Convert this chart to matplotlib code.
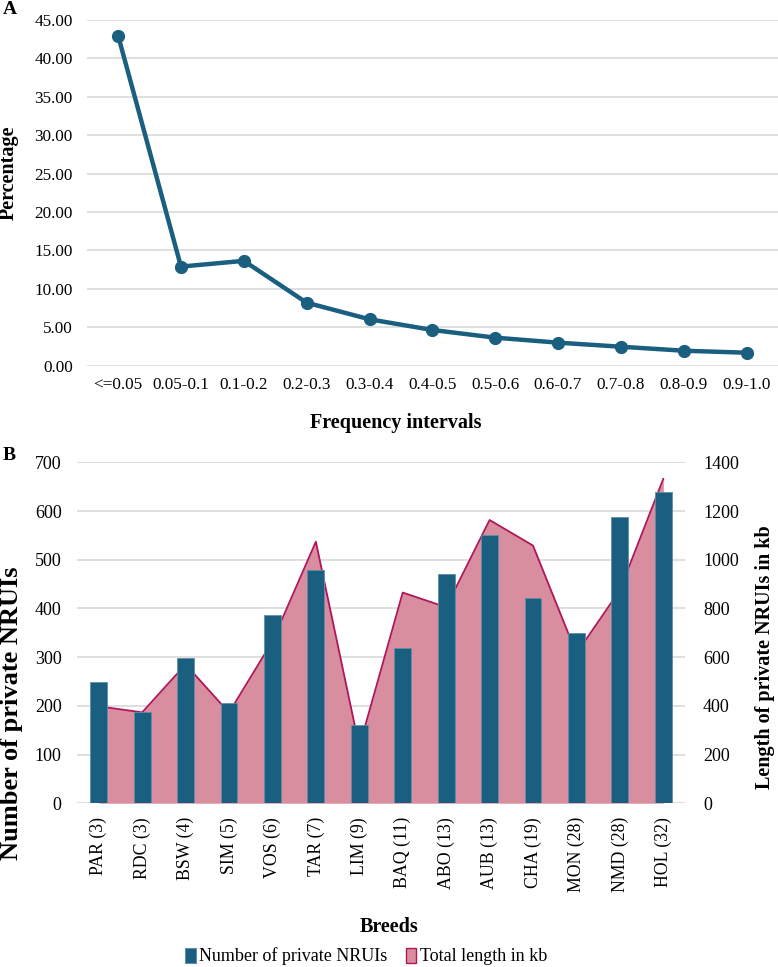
import numpy as np
import matplotlib
matplotlib.use("Agg")
import matplotlib.pyplot as plt
from matplotlib.patches import Patch

plt.rcParams['font.family'] = ['Liberation Serif', 'DejaVu Serif']

# panel A
intervals = ['<=0.05', '0.05-0.1', '0.1-0.2', '0.2-0.3', '0.3-0.4', '0.4-0.5',
             '0.5-0.6', '0.6-0.7', '0.7-0.8', '0.8-0.9', '0.9-1.0']
percentage = [42.96, 12.9, 13.65, 8.2, 6.04, 4.65, 3.65, 3.0, 2.47, 1.95, 1.69]

# panel B
breeds = ['PAR (3)', 'RDC (3)', 'BSW (4)', 'SIM (5)', 'VOS (6)', 'TAR (7)', 'LIM (9)',
          'BAQ (11)', 'ABO (13)', 'AUB (13)', 'CHA (19)', 'MON (28)', 'NMD (28)', 'HOL (32)']
n_private = [249, 187, 299, 205, 387, 479, 161, 319, 471, 551, 421, 350, 588, 640]
length_kb = [398, 373, 570, 372, 665, 1074, 232, 865, 805, 1163, 1058, 615, 875, 1332]

blue = '#1a5e80'
pink = '#d88e9f'
crimson = '#b0165a'
grid_c = '#d9d9d9'

W, H = 778, 967
fig = plt.figure(figsize=(W / 100, H / 100), dpi=100)


def box(l, r, t, b):
    return [l / W, 1 - b / H, (r - l) / W, (b - t) / H]


# ---- A ----
axA = fig.add_axes(box(86.7, 778, 20, 365.7))
xa = np.arange(len(intervals))
axA.plot(xa, percentage, color=blue, lw=3.2, marker='o', ms=8.5, zorder=3)
axA.set_xlim(-0.5, len(intervals) - 0.5)
axA.set_ylim(0, 45)
axA.set_yticks(np.arange(0, 46, 5))
axA.set_yticklabels([f'{v:.2f}' for v in np.arange(0, 46, 5)])
axA.set_xticks(xa)
axA.set_xticklabels(intervals)
axA.grid(axis='y', color=grid_c, lw=1.2)
axA.set_axisbelow(True)
for s in axA.spines.values():
    s.set_visible(False)
axA.tick_params(length=0, labelsize=12.3)
axA.tick_params(axis='y', pad=10)
axA.tick_params(axis='x', pad=8)

fig.text(3 / W, 1 - 10 / H, 'A', fontsize=14, fontweight='bold', va='center', ha='left')
fig.text(9 / W, 1 - 173 / H, 'Percentage', fontsize=14.5, fontweight='bold',
         rotation=90, va='center', ha='center')
fig.text(396 / W, 1 - 422.7 / H, 'Frequency intervals', fontsize=14.5, fontweight='bold',
         va='center', ha='center')

# ---- B ----
ax1 = fig.add_axes(box(77, 685, 462.3, 803.2))
ax2 = ax1.twinx()
xb = np.arange(len(breeds))

ax2.fill_between(xb, length_kb, 0, color=pink, lw=0, zorder=2)
ax2.plot(xb, length_kb, color=crimson, lw=1.3, zorder=3)
ax2.set_ylim(0, 1400)
ax2.set_yticks(np.arange(0, 1401, 200))
ax2.grid(axis='y', color=grid_c, lw=1.2, zorder=0)
ax2.set_axisbelow(True)

ax1.bar(xb, n_private, width=0.39, color=blue, edgecolor='#5f8fa8', lw=0.6, zorder=3)
ax1.set_ylim(0, 700)
ax1.set_yticks(np.arange(0, 701, 100))
ax1.set_xlim(-0.5, len(breeds) - 0.5)
ax1.set_xticks(xb)
ax1.set_xticklabels(breeds, rotation=90)
ax1.set_zorder(ax2.get_zorder() + 1)
ax1.patch.set_visible(False)

for a in (ax1, ax2):
    for s in a.spines.values():
        s.set_visible(False)
    a.tick_params(length=0, labelsize=13)
ax1.tick_params(axis='y', pad=11)
ax1.tick_params(axis='x', pad=10, labelsize=12.8)
ax2.tick_params(axis='y', pad=13)

fig.text(3 / W, 1 - 455 / H, 'B', fontsize=14, fontweight='bold', va='center', ha='left')
fig.text(12 / W, 1 - 713 / H, 'Number of private NRUIs', fontsize=19, fontweight='bold',
         rotation=90, va='center', ha='center')
fig.text(765 / W, 1 - 657.5 / H, 'Length of private NRUIs in kb', fontsize=14.5,
         fontweight='bold', rotation=90, va='center', ha='center')
fig.text(389 / W, 1 - 927 / H, 'Breeds', fontsize=14.5, fontweight='bold',
         va='center', ha='center')

handles = [Patch(facecolor=blue, edgecolor='#5f8fa8', lw=0.8),
           Patch(facecolor=pink, edgecolor=crimson, lw=1.0)]
fig.legend(handles, ['Number of private NRUIs', 'Total length in kb'],
           loc='center', bbox_to_anchor=(366 / W, 1 - 956.5 / H), ncol=2,
           frameon=False, fontsize=13, handlelength=0.6, handleheight=0.9,
           handletextpad=0.2, columnspacing=1.0, borderpad=0)

fig.savefig('out.png', dpi=100)
